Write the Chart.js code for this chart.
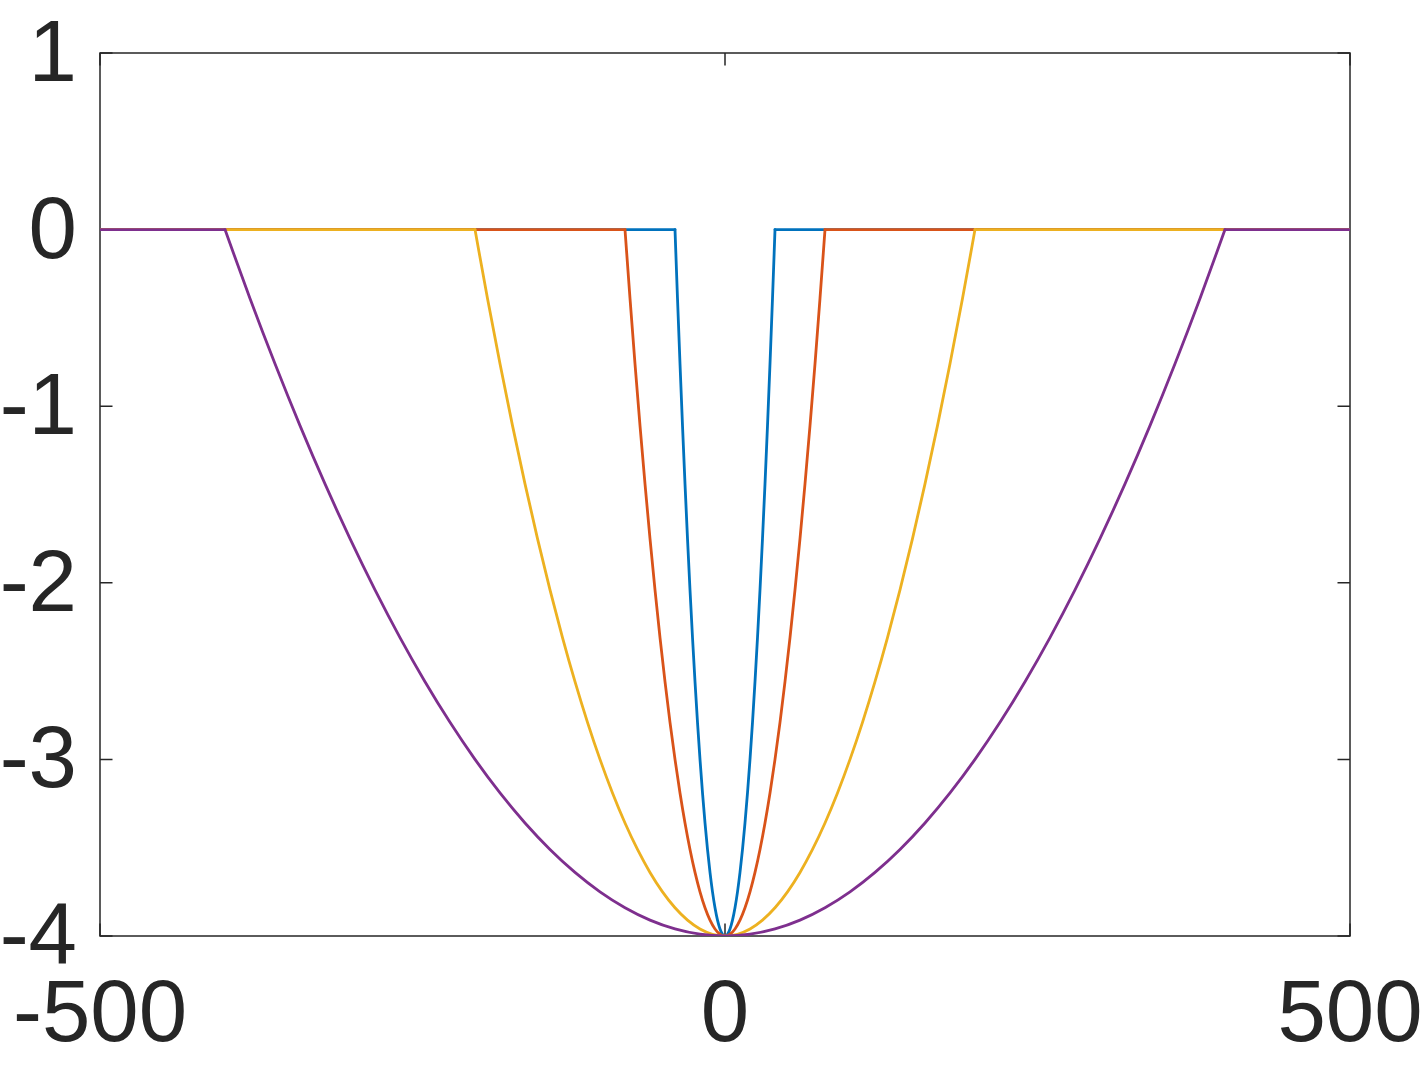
<!DOCTYPE html>
<html lang="en">
<head>
    <meta charset="UTF-8">
    <title>Parabolic wells</title>
    <script src="https://cdn.jsdelivr.net/npm/chart.js"></script>
    <style>
        html, body { margin: 0; padding: 0; background: #fff; }
        #wrap { width: 1422px; height: 1067px; }
    </style>
</head>
<body>
    <div id="wrap">
        <canvas id="wellChart" width="1422" height="1067"></canvas>
    </div>
    <script>
        // x positions read inside each well
        const xBlue = [-40, -38, -36, -34, -32, -30, -28, -26, -24, -22, -20, -18, -16, -14, -12, -10, -8, -6, -4, -2, 0,
            2, 4, 6, 8, 10, 12, 14, 16, 18, 20, 22, 24, 26, 28, 30, 32, 34, 36, 38, 40];
        const xRed = [-80, -76, -72, -68, -64, -60, -56, -52, -48, -44, -40, -36, -32, -28, -24, -20, -16, -12, -8, -4, 0,
            4, 8, 12, 16, 20, 24, 28, 32, 36, 40, 44, 48, 52, 56, 60, 64, 68, 72, 76, 80];
        const xYellow = [-200, -190, -180, -170, -160, -150, -140, -130, -120, -110, -100, -90, -80, -70, -60, -50, -40, -30, -20, -10, 0,
            10, 20, 30, 40, 50, 60, 70, 80, 90, 100, 110, 120, 130, 140, 150, 160, 170, 180, 190, 200];
        const xPurple = [-400, -380, -360, -340, -320, -300, -280, -260, -240, -220, -200, -180, -160, -140, -120, -100, -80, -60, -40, -20, 0,
            20, 40, 60, 80, 100, 120, 140, 160, 180, 200, 220, 240, 260, 280, 300, 320, 340, 360, 380, 400];
        // depth read at those positions (same relative shape for all four wells)
        const yDepth = [0, -0.39, -0.76, -1.11, -1.44, -1.75, -2.04, -2.31, -2.56, -2.79, -3.00, -3.19, -3.36, -3.51, -3.64, -3.75, -3.84, -3.91, -3.96, -3.99, -4,
            -3.99, -3.96, -3.91, -3.84, -3.75, -3.64, -3.51, -3.36, -3.19, -3.00, -2.79, -2.56, -2.31, -2.04, -1.75, -1.44, -1.11, -0.76, -0.39, 0];
        // flat parts outside each well (null = gap over the well)
        const xFlatBlue = [-500, -40, 0, 40, 500];
        const xFlatRed = [-500, -80, 0, 80, 500];
        const xFlatYellow = [-500, -200, 0, 200, 500];
        const xFlatPurple = [-500, -400, 0, 400, 500];
        const yFlat = [0, 0, null, 0, 0];
        const xTicks = [-500, 0, 500];
        const yTicks = [-4, -3, -2, -1, 0, 1];

        const axisColor = '#262626';
        const tickFont = { family: '"Liberation Sans", Arial, sans-serif', size: 87 };

        function pts(xs, ys) {
            return xs.map((x, i) => ({ x: x, y: ys[i] }));
        }

        function line(data, color, order, smooth) {
            return {
                data: data,
                borderColor: color,
                borderWidth: 2.8,
                borderCapStyle: 'round',
                borderJoinStyle: 'round',
                pointRadius: 0,
                tension: 0,
                cubicInterpolationMode: smooth ? 'monotone' : 'default',
                spanGaps: false,
                fill: false,
                order: order
            };
        }

        // box with inward tick marks
        const boxPlugin = {
            id: 'box',
            beforeDatasetsDraw(chart) {
                const { ctx, chartArea: a, scales } = chart;
                const len = 12.5;
                ctx.save();
                ctx.strokeStyle = axisColor;
                ctx.lineWidth = 1.5;
                ctx.strokeRect(a.left, a.top, a.right - a.left, a.bottom - a.top);
                ctx.beginPath();
                xTicks.forEach(v => {
                    const px = scales.x.getPixelForValue(v);
                    ctx.moveTo(px, a.bottom); ctx.lineTo(px, a.bottom - len);
                    ctx.moveTo(px, a.top); ctx.lineTo(px, a.top + len);
                });
                yTicks.forEach(v => {
                    const py = scales.y.getPixelForValue(v);
                    ctx.moveTo(a.left, py); ctx.lineTo(a.left + len, py);
                    ctx.moveTo(a.right, py); ctx.lineTo(a.right - len, py);
                });
                ctx.stroke();
                ctx.restore();
            }
        };

        const ctx = document.getElementById('wellChart').getContext('2d');
        new Chart(ctx, {
            type: 'line',
            data: {
                datasets: [
                    line(pts(xBlue, yDepth), '#0072BD', 4, true),
                    line(pts(xFlatBlue, yFlat), '#0072BD', 4, false),
                    line(pts(xRed, yDepth), '#D95319', 3, true),
                    line(pts(xFlatRed, yFlat), '#D95319', 3, false),
                    line(pts(xYellow, yDepth), '#EDB120', 2, true),
                    line(pts(xFlatYellow, yFlat), '#EDB120', 2, false),
                    line(pts(xPurple, yDepth), '#7E2F8E', 1, true),
                    line(pts(xFlatPurple, yFlat), '#7E2F8E', 1, false)
                ]
            },
            options: {
                responsive: false,
                animation: false,
                layout: { padding: { top: 53, right: 72, left: 0, bottom: 0 } },
                plugins: { legend: { display: false }, tooltip: { enabled: false } },
                scales: {
                    x: {
                        type: 'linear',
                        min: -500,
                        max: 500,
                        afterBuildTicks: s => { s.ticks = xTicks.map(v => ({ value: v })); },
                        afterFit: s => { s.height = 131; s.paddingLeft = 0; s.paddingRight = 0; },
                        grid: { display: false },
                        border: { display: false },
                        ticks: { color: axisColor, font: tickFont, padding: 21, maxRotation: 0 }
                    },
                    y: {
                        type: 'linear',
                        min: -4,
                        max: 1,
                        afterBuildTicks: s => { s.ticks = yTicks.map(v => ({ value: v })); },
                        afterFit: s => { s.width = 100; s.paddingTop = 0; s.paddingBottom = 0; },
                        grid: { display: false },
                        border: { display: false },
                        ticks: { color: axisColor, font: tickFont, padding: 15, labelOffset: 4 }
                    }
                }
            },
            plugins: [boxPlugin]
        });
    </script>
</body>
</html>
